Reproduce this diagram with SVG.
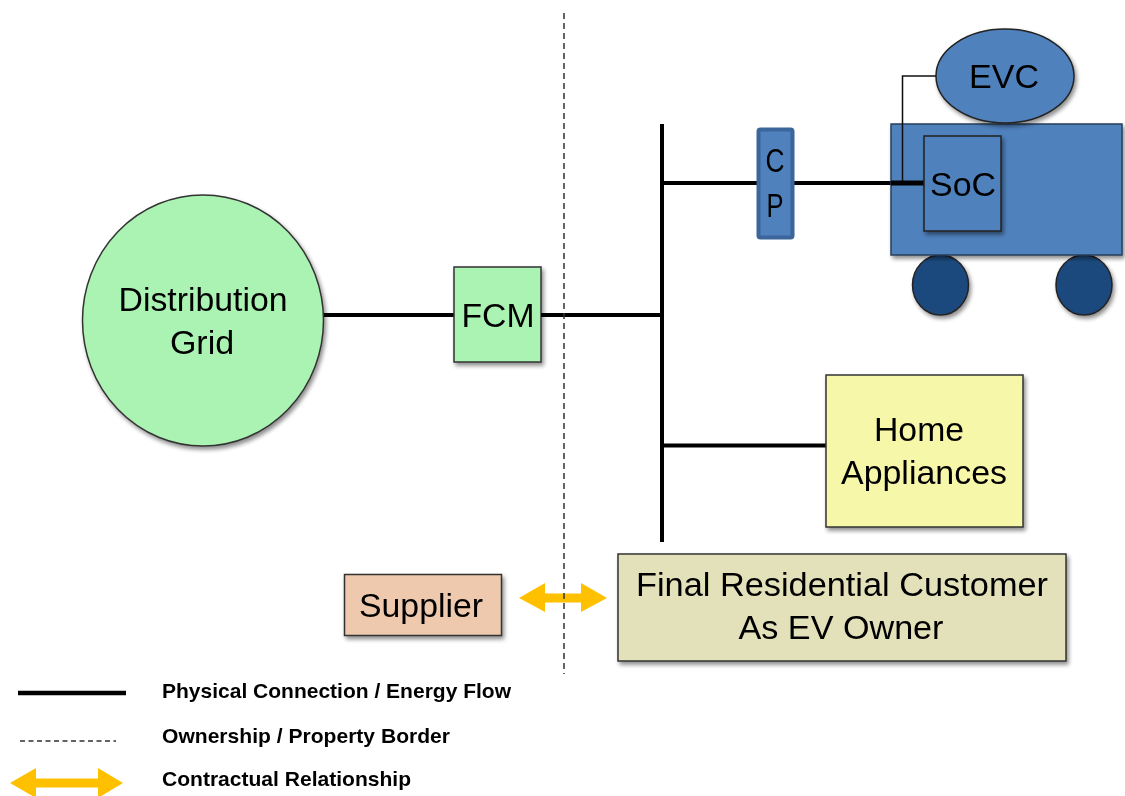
<svg xmlns="http://www.w3.org/2000/svg" width="1125" height="796" viewBox="0 0 1125 796">
<defs>
<filter id="sh" x="-20%" y="-20%" width="140%" height="140%"><feGaussianBlur in="SourceAlpha" stdDeviation="2"/><feOffset dx="2" dy="3"/><feComponentTransfer><feFuncA type="linear" slope="0.45"/></feComponentTransfer><feMerge><feMergeNode/><feMergeNode in="SourceGraphic"/></feMerge></filter>
<filter id="soft" filterUnits="userSpaceOnUse" x="0" y="0" width="1125" height="796"><feGaussianBlur stdDeviation="0.5"/></filter>
</defs>
<style>
text{font-family:"Liberation Sans",Arial,sans-serif;fill:#000;text-anchor:middle}
.l{font-size:34px}
.k{font-size:21px;font-weight:bold;text-anchor:start}
.s{stroke:#333;stroke-width:1.500}
.w{stroke:#000;stroke-width:4;fill:none}
</style>
<rect width="1125" height="796" fill="#fff"/>
<g filter="url(#soft)">
<g id="contract-arrow"><polygon points="519,598 545,583 545,593.500 581,593.500 581,583 607,598 581,612 581,602.500 545,602.500 545,612" fill="#ffc000"/></g>
<g id="connectors">
<path class="w" d="M322 315H454M541 315H662M662 124V542M662 183H757M794 183H924M662 445.500H826"/>
<path d="M564 13V674" stroke="#333" stroke-width="1.500" stroke-dasharray="6 4" fill="none"/>
</g>
<g id="distribution-grid"><ellipse cx="203" cy="320.500" rx="120.500" ry="125.500" fill="#abf3b3" class="s" filter="url(#sh)"/><text class="l" x="203" y="311" textLength="169" lengthAdjust="spacingAndGlyphs">Distribution</text><text class="l" x="202" y="354">Grid</text></g>
<g id="fcm"><rect x="454" y="267" width="87" height="95" fill="#abf3b3" class="s" filter="url(#sh)"/><text class="l" x="498" y="327" textLength="73" lengthAdjust="spacingAndGlyphs">FCM</text><path d="M541 315H560" stroke="#000" stroke-width="4"/></g>
<g id="cp"><rect x="758.500" y="129.500" width="34" height="108" rx="2" fill="#4f81bd" stroke="#3a659b" stroke-width="4"/><text class="l" x="775" y="172" textLength="19" lengthAdjust="spacingAndGlyphs">C</text><text class="l" x="775" y="217" textLength="17" lengthAdjust="spacingAndGlyphs">P</text></g>
<g id="wheel-left"><ellipse cx="940.500" cy="285" rx="28" ry="30" fill="#1f497d" stroke="#222" stroke-width="1.500" filter="url(#sh)"/></g>
<g id="wheel-right"><ellipse cx="1084" cy="285" rx="28" ry="30" fill="#1f497d" stroke="#222" stroke-width="1.500" filter="url(#sh)"/></g>
<g id="ev-body"><rect x="891" y="124" width="231" height="131" fill="#4f81bd" stroke="#2a3f5a" stroke-width="1.500" filter="url(#sh)"/></g>
<g id="evc"><ellipse cx="1005" cy="76" rx="69" ry="47" fill="#4f81bd" stroke="#222" stroke-width="1.500" filter="url(#sh)"/><text class="l" x="1004" y="88" textLength="70" lengthAdjust="spacingAndGlyphs">EVC</text></g>
<g id="ev-connectors"><path d="M936 76H902.500V183" fill="none" stroke="#111" stroke-width="1.500"/><path d="M891 183H924" stroke="#000" stroke-width="5"/></g>
<g id="soc"><rect x="924" y="136" width="77" height="95" fill="#4f81bd" stroke="#222" stroke-width="1.500" filter="url(#sh)"/><text class="l" x="963" y="196" textLength="66" lengthAdjust="spacingAndGlyphs">SoC</text></g>
<g id="home-appliances"><rect x="826" y="375" width="197" height="152" fill="#f6f7a9" class="s" filter="url(#sh)"/><text class="l" x="919" y="441" textLength="90" lengthAdjust="spacingAndGlyphs">Home</text><text class="l" x="924" y="484" textLength="166" lengthAdjust="spacingAndGlyphs">Appliances</text></g>
<g id="customer"><rect x="618" y="554" width="448" height="107" fill="#e3e1b9" class="s" filter="url(#sh)"/><text class="l" x="842" y="596" textLength="412" lengthAdjust="spacingAndGlyphs">Final Residential Customer</text><text class="l" x="841" y="639" textLength="205" lengthAdjust="spacingAndGlyphs">As EV Owner</text></g>
<g id="supplier"><rect x="344.500" y="574.500" width="157" height="61" fill="#efc9ae" class="s" filter="url(#sh)"/><text class="l" x="421" y="617" textLength="124" lengthAdjust="spacingAndGlyphs">Supplier</text></g>
<g id="legend">
<path d="M18 693H126" stroke="#000" stroke-width="4.500"/>
<path d="M20 741H116" stroke="#333" stroke-width="1.300" stroke-dasharray="5 3.500"/>
<polygon points="10,783 36,768 36,778.500 98,778.500 98,768 123,783 98,798 98,787.500 36,787.500 36,798" fill="#ffc000"/>
<text class="k" x="162" y="698" textLength="349" lengthAdjust="spacingAndGlyphs">Physical Connection / Energy Flow</text>
<text class="k" x="162" y="743" textLength="288" lengthAdjust="spacingAndGlyphs">Ownership / Property Border</text>
<text class="k" x="162" y="786" textLength="249" lengthAdjust="spacingAndGlyphs">Contractual Relationship</text>
</g>
</g>
</svg>
